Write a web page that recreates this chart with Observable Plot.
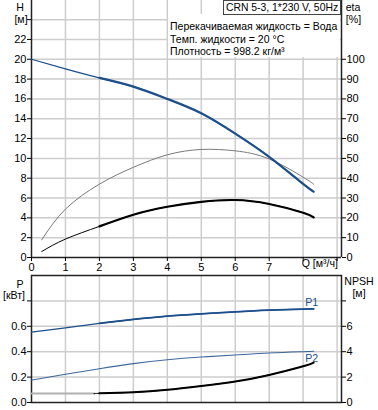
<!DOCTYPE html>
<html><head><meta charset="utf-8">
<script src="https://cdn.jsdelivr.net/npm/d3@7"></script>
<script src="https://cdn.jsdelivr.net/npm/@observablehq/plot@0.6"></script>
<style>
body{margin:0;background:#fff;}
#chart svg{display:block;}
</style></head><body><div id="chart"></div>
<script>
// ---- data ----
const qH = [0, 1, 2, 3, 4, 5, 6, 7, 8, 8.31];
const headH = [20, 19.03, 18.12, 17.24, 16.0, 14.55, 12.5, 10.15, 7.42, 6.64];
const qEta = [0.3, 1, 2, 3, 4, 5, 6, 7, 8, 8.31];
const etaPump = [8.9, 24.4, 37, 45.5, 51.8, 54.5, 53.8, 49.7, 40.5, 37];
const etaTotal = [3.0, 9.3, 15.7, 21.6, 25.6, 28.1, 29.0, 27.0, 22.6, 20.2];
const qP = [0, 1, 2, 3, 4, 5, 6, 7, 8, 8.31];
const powerP1 = [0.554, 0.588, 0.623, 0.654, 0.68, 0.698, 0.714, 0.727, 0.735, 0.737];
const powerP2 = [0.176, 0.222, 0.266, 0.306, 0.337, 0.358, 0.374, 0.39, 0.4, 0.403];
const qNpsh = [0, 1.85, 2, 3, 4, 5, 6, 7, 8, 8.31];
const npsh = [0.7, 0.7, 0.72, 0.8, 1.0, 1.3, 1.65, 2.17, 2.85, 3.14];

const qTicks = [0, 1, 2, 3, 4, 5, 6, 7, 8, 9];
const qTickLabels = ["0", "1", "2", "3", "4", "5", "6", "7", "", ""];
const hTicks = [0, 2, 4, 6, 8, 10, 12, 14, 16, 18, 20, 22, 24];
const hTickLabels = ["0", "2", "4", "6", "8", "10", "12", "14", "16", "18", "20", "22", ""];
const etaTicks = [0, 10, 20, 30, 40, 50, 60, 70, 80, 90, 100];
const pTicks = [0, 0.2, 0.4, 0.6, 0.8];
const pTickLabels = ["0.0", "0.2", "0.4", "0.6", ""];
const npshTicks = [0, 2, 4, 6, 8];
const npshTickLabels = ["0", "2", "4", "6", ""];

const titleBox = "CRN 5-3, 1*230 V, 50Hz";
const infoLines = ["Перекачиваемая жидкость = Вода", "Темп. жидкости = 20 °C", "Плотность = 998.2 кг/м³"];
const qLabel = "Q [м³/ч]";

// ---- build tables ----
const hData = qH.map((q, i) => ({q, v: headH[i]}));
const etaPData = qEta.map((q, i) => ({q, v: etaPump[i] / 5}));
const etaTData = qEta.map((q, i) => ({q, v: etaTotal[i] / 5}));
const p1Data = qP.map((q, i) => ({q, v: powerP1[i]}));
const p2Data = qP.map((q, i) => ({q, v: powerP2[i]}));
const npshData = qNpsh.map((q, i) => ({q, v: npsh[i] / 10}));
const thickFrom = 2;
const thick = d => d.filter(p => p.q >= thickFrom);

const BLUE = "#1d4f8c";
const GRID = "#cdcdcd";
const AX = "#222";
const FONT = "'Liberation Sans', Arial, sans-serif";
const xDomain = [0, 9.13];
const fmt = (ticks, labels) => d => { const i = ticks.findIndex(t => Math.abs(t - d) < 1e-9); return i < 0 ? "" : labels[i]; };

const topSvg = Plot.plot({
  width: 378, height: 274,
  marginLeft: 31, marginRight: 37, marginTop: 0, marginBottom: 17,
  style: {fontFamily: FONT, fontSize: "11px", background: "white", color: "#000", overflow: "visible"},
  x: {domain: xDomain},
  y: {domain: [0, 25.93]},
  marks: [
    Plot.gridX(qTicks.slice(1), {stroke: GRID, strokeOpacity: 1, strokeWidth: 1.5}),
    Plot.gridY(hTicks.slice(1), {stroke: GRID, strokeOpacity: 1, strokeWidth: 1.5}),
    Plot.ruleX([0], {stroke: AX, strokeWidth: 1.5}),
    Plot.ruleX([xDomain[1]], {stroke: AX, strokeWidth: 1.5}),
    Plot.ruleY([0], {stroke: AX, strokeWidth: 1.5}),
    Plot.axisX(qTicks, {anchor: "bottom", tickSize: 4, tickPadding: 2, tickFormat: fmt(qTicks, qTickLabels), label: null}),
    Plot.axisY(hTicks, {anchor: "left", tickSize: 4, tickPadding: 1, tickFormat: fmt(hTicks, hTickLabels), label: null}),
    Plot.axisY(etaTicks.map(e => e / 5), {anchor: "right", tickSize: 4, tickPadding: 1, tickFormat: d => String(Math.round(d * 5)), label: null}),
    Plot.text([qLabel], {x: [8], text: d => d, frameAnchor: "bottom", dy: 9.5, dx: -1.5, textAnchor: "start", fontSize: 10.6}),
    Plot.line(etaPData, {x: "q", y: "v", stroke: "#7a7a7a", strokeWidth: 1, curve: "natural"}),
    Plot.line(etaTData, {x: "q", y: "v", stroke: "#000", strokeWidth: 1, curve: "natural"}),
    Plot.line(thick(etaTData), {x: "q", y: "v", stroke: "#000", strokeWidth: 2.2, curve: "natural"}),
    Plot.line(hData, {x: "q", y: "v", stroke: BLUE, strokeWidth: 1.2, curve: "natural"}),
    Plot.line(thick(hData), {x: "q", y: "v", stroke: BLUE, strokeWidth: 2.2, curve: "natural"})
  ]
});

const bottomSvg = Plot.plot({
  width: 378, height: 136,
  marginLeft: 31, marginRight: 37, marginTop: 1, marginBottom: 8,
  style: {fontFamily: FONT, fontSize: "11px", background: "white", color: "#000", overflow: "visible"},
  x: {domain: xDomain, axis: null},
  y: {domain: [0, 1.0]},
  marks: [
    Plot.gridX(qTicks.slice(1), {stroke: GRID, strokeOpacity: 1, strokeWidth: 1.5}),
    Plot.gridY(pTicks.slice(1), {stroke: GRID, strokeOpacity: 1, strokeWidth: 1.5}),
    Plot.frame({stroke: AX, strokeWidth: 1.5}),
    Plot.axisY(pTicks, {anchor: "left", tickSize: 4, tickPadding: 1, tickFormat: fmt(pTicks, pTickLabels), label: null}),
    Plot.axisY(npshTicks.map(n => n / 10), {anchor: "right", tickSize: 4, tickPadding: 1, tickFormat: fmt(npshTicks.map(n => n / 10), npshTickLabels), label: null}),
    Plot.line(npshData.filter(d => d.q <= 1.85), {x: "q", y: "v", stroke: "#b0b0b0", strokeWidth: 2}),
    Plot.line(npshData.filter(d => d.q >= 1.85), {x: "q", y: "v", stroke: "#000", strokeWidth: 1, curve: "natural"}),
    Plot.line(thick(npshData), {x: "q", y: "v", stroke: "#000", strokeWidth: 2, curve: "natural"}),
    Plot.line(p2Data, {x: "q", y: "v", stroke: BLUE, strokeWidth: 1.1, strokeOpacity: 0.85, curve: "natural"}),
    Plot.line(p1Data, {x: "q", y: "v", stroke: BLUE, strokeWidth: 1.3, curve: "natural"}),
    Plot.line(thick(p1Data), {x: "q", y: "v", stroke: BLUE, strokeWidth: 1.8, curve: "natural"}),
    Plot.text([p1Data[p1Data.length - 1]], {x: "q", y: "v", text: () => "P1", fill: BLUE, dx: -2, dy: -6, fontSize: 10.6}),
    Plot.text([p2Data[p2Data.length - 1]], {x: "q", y: "v", text: () => "P2", fill: BLUE, dx: -2, dy: 7, fontSize: 10.6})
  ]
});

const host = document.getElementById("chart");
host.appendChild(topSvg);
host.appendChild(bottomSvg);

// ---- annotations (axis titles, info box) ----
function addText(svg, x, y, txt, anchor, size) {
  d3.select(svg).append("text").attr("x", x).attr("y", y).attr("text-anchor", anchor || "middle")
    .attr("dominant-baseline", "central").attr("font-family", FONT).attr("font-size", size || 10.6).attr("fill", "#000").text(txt);
}
const ts = d3.select(topSvg);
// info block background hiding grid
ts.append("rect").attr("x", 168).attr("y", 14).attr("width", 172).attr("height", 43).attr("fill", "white");
infoLines.forEach((t, i) => addText(topSvg, 170, 26 + i * 12.5, t, "start", 10.5));
ts.append("rect").attr("x", 223.5).attr("y", 0.5).attr("width", 117).attr("height", 14).attr("fill", "white").attr("stroke", "#444").attr("stroke-width", 1);
addText(topSvg, 282, 7.5, titleBox, "middle", 10.4);
addText(topSvg, 20, 7, "H");
addText(topSvg, 21, 18.5, "[м]");
addText(topSvg, 353, 7, "eta");
addText(topSvg, 353.5, 18.5, "[%]");
addText(bottomSvg, 20, 10, "P");
addText(bottomSvg, 14, 20.5, "[кВт]");
addText(bottomSvg, 359, 7, "NPSH");
addText(bottomSvg, 359, 19.3, "[м]");
</script></body></html>
